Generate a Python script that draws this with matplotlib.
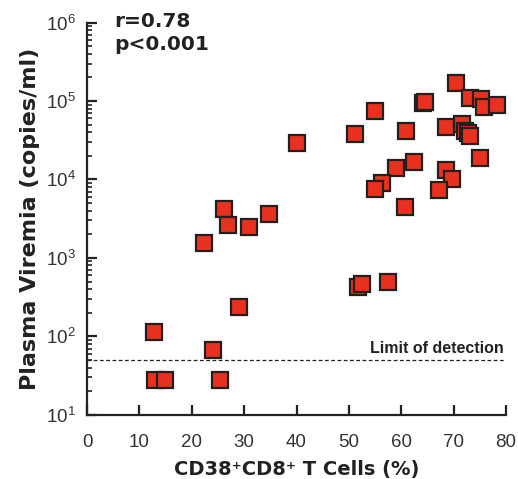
import numpy as np
import matplotlib
matplotlib.use("Agg")
import matplotlib.pyplot as plt

plt.rcParams['font.family'] = ['Liberation Sans', 'DejaVu Sans']
plt.rcParams['mathtext.fontset'] = 'custom'
plt.rcParams['mathtext.rm'] = 'Liberation Sans'
plt.rcParams['mathtext.bf'] = 'Liberation Sans:bold'

# CD38+CD8+ T cells (%) vs plasma viremia (copies/ml)
cd38 = [70.4, 73.1, 75.3, 75.8, 78.3, 64.2, 64.6, 55.0, 51.2, 60.9,
        68.5, 71.5, 72.1, 72.8, 73.2, 75.1, 62.5, 58.9, 56.4, 55.0,
        68.6, 69.6, 67.2, 60.7, 40.0,
        26.2, 27.0, 30.9, 34.8, 22.3,
        12.8, 13.0, 14.9, 25.3, 24.1, 29.0, 51.8, 52.4, 57.5]
viremia = [170000, 110000, 105000, 83000, 89000, 95000, 98000, 74000, 38000, 42000,
           46000, 51000, 42000, 39000, 36000, 19000, 16600, 14000, 8900, 7600,
           13000, 10000, 7300, 4400, 29000,
           4200, 2600, 2500, 3600, 1560,
           115, 28, 28, 28, 67, 240, 420, 460, 490]

limit = 50
bold_font = 'DejaVu Sans'

fig = plt.figure(figsize=(5.18, 4.79), dpi=100)
ax = fig.add_axes([0.168, 0.134, 0.809, 0.819])

ax.plot(cd38, viremia, linestyle='none', marker='s', markersize=11.5,
        markerfacecolor='#e8311f', markeredgecolor='#231f1e', markeredgewidth=1.6)

ax.axhline(limit, color='#222222', linestyle=(0, (3, 2)), linewidth=0.9)
ax.text(79.5, limit * 1.14, 'Limit of detection', ha='right', va='bottom',
        fontsize=11.5, fontweight='bold', color='#222222')

ax.text(5.2, 1.35e6, 'r=0.78\np<0.001', ha='left', va='top', fontsize=14.5,
        fontweight='bold', color='#222222', linespacing=1.25, family=bold_font)

ax.set_yscale('log')
ax.set_xlim(0, 80)
ax.set_ylim(10, 1e6)
ax.set_xticks(range(0, 81, 10))

for s in ['top', 'right']:
    ax.spines[s].set_visible(False)
for s in ['left', 'bottom']:
    ax.spines[s].set_linewidth(1.6)
    ax.spines[s].set_color('#222222')

ax.tick_params(which='major', direction='in', length=7, width=1.6, colors='#222222',
               labelsize=13.5, labelcolor='#333333')
ax.tick_params(which='minor', direction='in', length=3.5, width=1.2, colors='#222222')
ax.tick_params(axis='x', pad=14)
ax.tick_params(axis='y', which='major', pad=8)

ax.set_xlabel('CD38\u207aCD8\u207a T Cells (%)', fontsize=14,
              fontweight='bold', color='#222222', labelpad=6, family=bold_font)
ax.set_ylabel('Plasma Viremia (copies/ml)', fontsize=16, fontweight='bold',
              color='#222222', labelpad=4, family=bold_font)

fig.savefig('out.png', dpi=100)
